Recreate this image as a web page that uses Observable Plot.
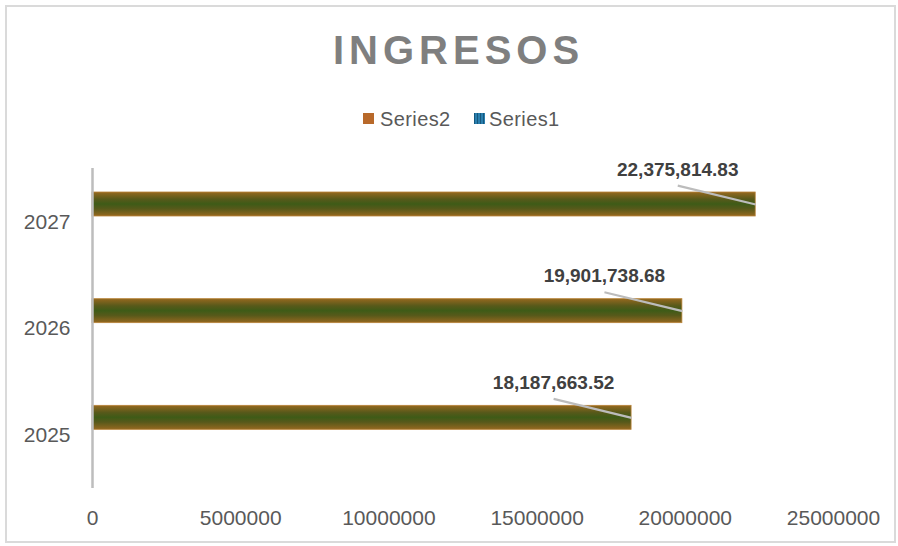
<!DOCTYPE html>
<html>
<head>
<meta charset="utf-8">
<script src="https://cdn.jsdelivr.net/npm/d3@7"></script>
<script src="https://cdn.jsdelivr.net/npm/@observablehq/plot@0.6"></script>
<style>
  html, body { margin: 0; padding: 0; background: #fff; }
  #wrap { position: relative; width: 898px; height: 546px; overflow: hidden; font-family: "Liberation Sans", Arial, sans-serif; }
  #frame { position: absolute; left: 5px; top: 5px; width: 887px; height: 534px; border: 2px solid #dadada; pointer-events: none; z-index: 3; }
  #header { position: absolute; left: 0; top: 0; width: 898px; height: 150px; }
  #title { position: absolute; left: 333px; top: 30px; font-size: 40px; line-height: 40px; font-weight: bold; letter-spacing: 5px; color: #7f7f7f; white-space: nowrap; }
  .sw { position: absolute; width: 11px; height: 11px; top: 113px; }
  .lt { position: absolute; top: 109px; font-size: 20px; line-height: 20px; letter-spacing: 0.4px; color: #595959; white-space: nowrap; }
  #chart { position: absolute; left: 0; top: 150px; }
</style>
</head>
<body>
<div id="wrap">
  <svg width="0" height="0" style="position:absolute">
    <defs>
      <linearGradient id="barGrad" x1="0" y1="0" x2="0" y2="1">
        <stop offset="0" stop-color="#95681f"/>
        <stop offset="0.3" stop-color="#57591a"/>
        <stop offset="0.5" stop-color="#3e5b17"/>
        <stop offset="0.7" stop-color="#57591a"/>
        <stop offset="1" stop-color="#95681f"/>
      </linearGradient>
      <pattern id="stripes" width="3" height="3" patternUnits="userSpaceOnUse">
        <rect width="3" height="3" fill="#2a7fae"/>
        <rect width="1" height="3" fill="#15587e"/>
      </pattern>
    </defs>
  </svg>
  <div id="frame"></div>
  <div id="header">
    <div id="title">INGRESOS</div>
    <div class="sw" style="left:363px;background:#b8692a"></div>
    <div class="lt" style="left:380px">Series2</div>
    <svg class="sw" style="left:474px" width="11" height="11"><rect width="11" height="11" fill="url(#stripes)"/></svg>
    <div class="lt" style="left:489px">Series1</div>
  </div>
  <div id="chart"></div>
</div>
<script>
const years = ["2025", "2026", "2027"];
const series2 = [18187663.52, 19901738.68, 22375814.83];
const xTicks = [0, 5000000, 10000000, 15000000, 20000000, 25000000];

const data = years.map((year, i) => ({ year, i, value: series2[i] }));

const fmt = d3.format(",.2f");

const chart = Plot.plot({
  width: 898,
  height: 396,
  marginLeft: 92,
  marginRight: 65,
  marginTop: 18,
  marginBottom: 58,
  style: { background: "transparent", fontFamily: "Liberation Sans, Arial, sans-serif", fontSize: "21px", color: "#595959" },
  x: {
    domain: [0, 25000000],
    ticks: xTicks,
    tickFormat: d3.format("d"),
    tickSize: 0,
    tickPadding: 22,
    label: null
  },
  y: {
    domain: [0, 3],
    ticks: years.map((_, i) => i + 0.5),
    tickFormat: v => years[Math.floor(v)],
    tickSize: 0,
    tickPadding: 22,
    label: null
  },
  marks: [
    Plot.rect(data, {
      x1: 0,
      x2: "value",
      y1: d => d.i + 0.55,
      y2: d => d.i + 0.775,
      fill: "url(#barGrad)",
      stroke: "#b8843a",
      strokeWidth: 0.8
    }),
    Plot.ruleX([0], { y1: 0, y2: 3, stroke: "#bdbdbd", strokeWidth: 2.5 }),
    Plot.link(data, {
      x1: d => d.value - 2630000,
      y1: d => d.i + 0.84,
      x2: "value",
      y2: d => d.i + 0.6625,
      stroke: "#bcbcbc",
      strokeWidth: 2.2
    }),
    Plot.text(data, {
      x: "value",
      y: d => d.i + 0.6625,
      text: d => fmt(d.value),
      dx: -78,
      dy: -35,
      fontSize: 19,
      fontWeight: "bold",
      fill: "#404040",
      textAnchor: "middle",
      letterSpacing: "1px"
    })
  ]
});
document.getElementById("chart").appendChild(chart);
</script>
</body>
</html>
